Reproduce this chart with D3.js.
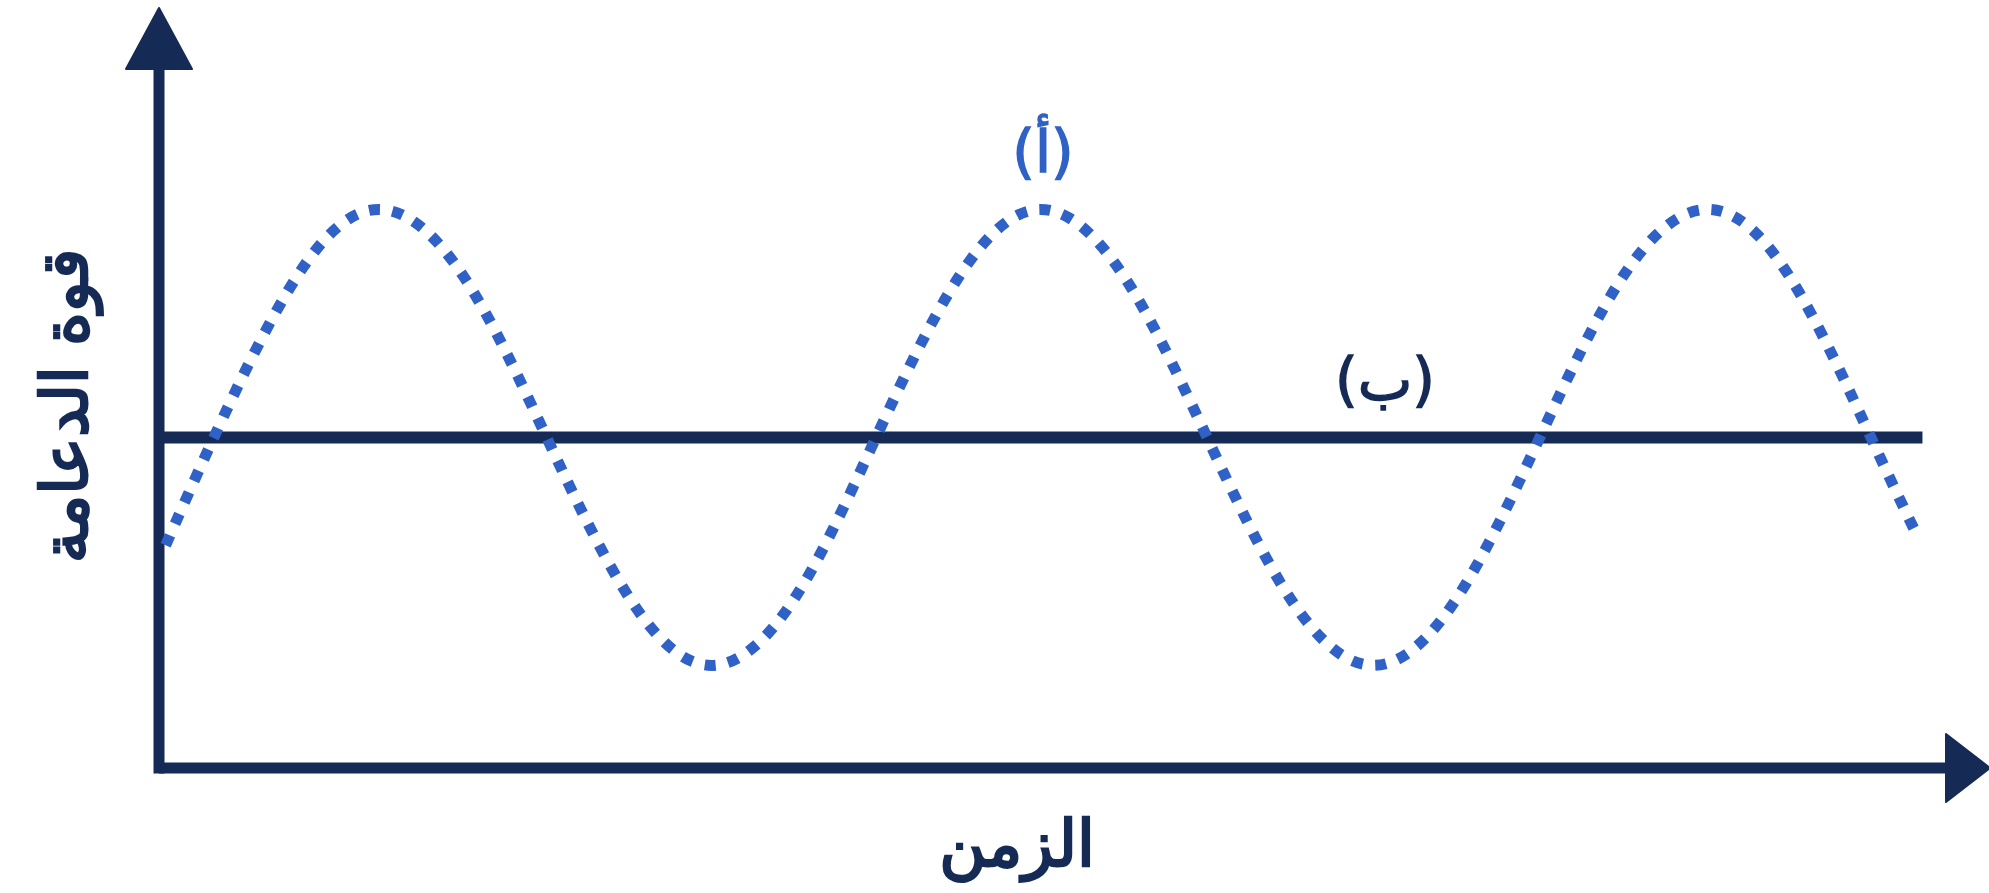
<!DOCTYPE html>
<html><head><meta charset="utf-8">
<script src="https://cdn.jsdelivr.net/npm/d3@7"></script>
<style>
html,body{margin:0;padding:0;background:#fff;}
svg{display:block;}
text{font-family:"DejaVu Sans","Noto Sans",sans-serif;}
</style></head>
<body>
<svg id="chart" width="1989" height="893"></svg>
<script>
// Data (time units, force units)
const waveTime  = [0.04, 0.33, 0.83, 1.33, 1.83, 2.33, 2.83, 3.32, 3.82, 4.31, 4.81, 5.30, 5.80, 6.30, 6.80, 7.30, 7.80, 8.30, 8.80, 9.30, 9.80, 10.29, 10.57];
const waveForce = [2.93, 4.35, 6.47, 7.35, 6.47, 4.35, 2.23, 1.35, 2.23, 4.35, 6.47, 7.35, 6.47, 4.35, 2.23, 1.35, 2.23, 4.35, 6.47, 7.35, 6.47, 4.35, 3.05];
const lineTime  = [0, 10.6];
const lineForce = [4.35, 4.35];
const labels = { xTitle: "الزمن", yTitle: "قوة الدعامة", waveLabel: "(أ)", lineLabel: "(ب)" };

const navy = "#152a55", blue = "#2f61c6";
const svg = d3.select("#chart");
const x = d3.scaleLinear().domain([0, 11]).range([159, 1989]);
const y = d3.scaleLinear().domain([0, 10]).range([768, 8]);

// axes
svg.append("line").attr("x1", x(0)).attr("x2", 1950).attr("y1", y(0)).attr("y2", y(0))
  .attr("stroke", navy).attr("stroke-width", 11);
svg.append("line").attr("x1", x(0)).attr("x2", x(0)).attr("y1", y(0) + 5.5).attr("y2", 62)
  .attr("stroke", navy).attr("stroke-width", 11);
// arrowheads
svg.append("path").attr("d", `M${x(0)},8 L${x(0)+33},69 L${x(0)-33},69 Z`).attr("fill", navy)
  .attr("stroke", navy).attr("stroke-width", 2).attr("stroke-linejoin", "round");
svg.append("path").attr("d", `M1990,${y(0)} L1946,${y(0)-34} L1946,${y(0)+34} Z`).attr("fill", navy)
  .attr("stroke", navy).attr("stroke-width", 2).attr("stroke-linejoin", "round");

// line (ب)
const pts = (ts, fs) => ts.map((t, i) => [t, fs[i]]);
const lineGen = d3.line().x(d => x(d[0])).y(d => y(d[1]));
svg.append("path").datum(pts(lineTime, lineForce)).attr("d", lineGen)
  .attr("fill", "none").attr("stroke", navy).attr("stroke-width", 12);

// wave (أ)
const waveGen = d3.line().x(d => x(d[0])).y(d => y(d[1])).curve(d3.curveNatural);
svg.append("path").datum(pts(waveTime, waveForce)).attr("d", waveGen)
  .attr("fill", "none").attr("stroke", blue).attr("stroke-width", 11)
  .attr("stroke-dasharray", "11,12.5");

// labels
svg.append("text").attr("x", 1043).attr("y", 172).attr("text-anchor", "middle")
  .attr("font-size", 58).attr("fill", blue).attr("stroke", blue).attr("stroke-width", 1.5)
  .text(labels.waveLabel);
svg.append("text").attr("x", 1385).attr("y", 400).attr("text-anchor", "middle")
  .attr("font-size", 58).attr("fill", navy).attr("stroke", navy).attr("stroke-width", 1.5)
  .text(labels.lineLabel);
svg.append("text").attr("x", 1017).attr("y", 866).attr("text-anchor", "middle")
  .attr("font-size", 64).attr("fill", navy).attr("stroke", navy).attr("stroke-width", 2.5)
  .text(labels.xTitle);
svg.append("text").attr("transform", "translate(87,406) rotate(-90)").attr("text-anchor", "middle")
  .attr("font-size", 64).attr("fill", navy).attr("stroke", navy).attr("stroke-width", 2.5)
  .text(labels.yTitle);
</script>
</body></html>
